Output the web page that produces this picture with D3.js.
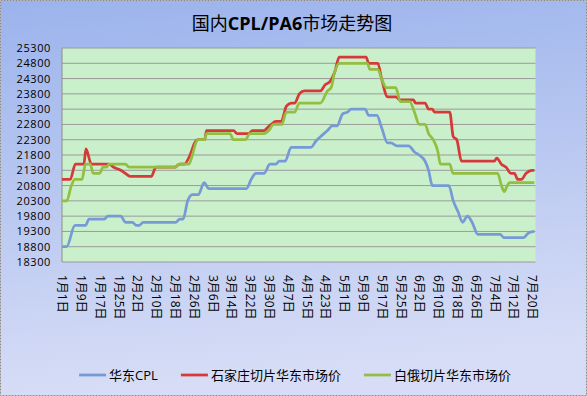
<!DOCTYPE html>
<html>
<head>
<meta charset="utf-8">
<script src="https://cdn.jsdelivr.net/npm/d3@7"></script>
<style>
  body { margin: 0; background: #fff; }
  svg text { font-family: "Open Sans", "Noto Sans CJK SC", sans-serif; fill: #000; }
</style>
</head>
<body>
<svg id="chart" width="587" height="396"></svg>
<script>
// días contados desde el 1月1日
var cplDays   = [0, 2, 5.5, 10, 11.5, 18, 19.5, 25, 27, 30, 31.5, 33, 34.5, 48.5, 50, 51.5, 53.5, 55.5, 58, 60.5, 62.5, 78.5, 80.5, 82.5, 86, 88.5, 91, 92.5, 95, 97.5, 106, 108, 110, 113, 115, 117, 119.5, 121.5, 123, 129, 130.5, 134, 136, 138.5, 140, 142.5, 147.5, 150, 152, 154.5, 156, 157.6, 164.6, 166.5, 168.5, 170.5, 172.5, 174.5, 177, 186.5, 188, 196.5, 198.5, 201];
var cplValues = [18800, 18800, 19500, 19500, 19700, 19700, 19800, 19800, 19600, 19600, 19500, 19500, 19600, 19600, 19700, 19700, 20300, 20500, 20500, 20900, 20700, 20700, 21000, 21200, 21200, 21500, 21500, 21600, 21600, 22050, 22050, 22250, 22400, 22600, 22750, 22750, 23150, 23200, 23300, 23300, 23100, 23100, 22700, 22200, 22200, 22100, 22100, 21900, 21800, 21600, 21300, 20800, 20800, 20300, 19950, 19600, 19800, 19600, 19200, 19200, 19100, 19100, 19250, 19300];

var sjzDays   = [0, 3.5, 5.7, 9.3, 10.2, 12.5, 20, 22, 25, 27, 29, 38, 40, 48, 50, 52, 54.5, 56.5, 58, 60.7, 61.5, 73, 74.5, 79.5, 81, 86, 87.5, 89, 91, 93.3, 95.5, 97.5, 99, 101, 103, 110, 112, 114, 116, 118, 129.4, 130.5, 134.4, 136, 138.6, 142, 144, 149.5, 150.5, 154.5, 156, 157.5, 158.6, 165, 166.5, 168, 170, 184, 185, 187, 189, 191, 192.5, 194, 195.5, 197.5, 200, 201];
var sjzValues = [21000, 21000, 21500, 21500, 22000, 21500, 21500, 21400, 21300, 21200, 21100, 21100, 21400, 21400, 21500, 21500, 21800, 22200, 22300, 22300, 22600, 22600, 22500, 22500, 22600, 22600, 22700, 22800, 22900, 22900, 23400, 23500, 23500, 23800, 23900, 23900, 24100, 24200, 24500, 25000, 25000, 24800, 24800, 24300, 23700, 23700, 23600, 23600, 23500, 23500, 23300, 23300, 23200, 23200, 22400, 22300, 21600, 21600, 21700, 21500, 21400, 21200, 21200, 21000, 21000, 21200, 21300, 21300];

var byDays   = [0, 2, 4, 5.5, 8.5, 10, 12, 13.3, 16, 17.5, 19, 20, 27, 28.5, 48, 50, 54, 55.5, 57, 58, 60.7, 61.5, 71.5, 73, 78, 80, 86, 88, 90, 93.5, 95.5, 99, 101, 110, 113, 114.5, 116, 118, 130, 131, 134.4, 136, 138, 142, 144, 148, 150, 152, 154.5, 156, 158, 160, 161, 165, 166.4, 185.4, 187, 188.2, 189.5, 190.4, 201];
var byValues = [20300, 20300, 20800, 21000, 21000, 21500, 21500, 21200, 21200, 21400, 21400, 21500, 21500, 21400, 21400, 21500, 21500, 21800, 22200, 22300, 22300, 22500, 22500, 22300, 22300, 22500, 22500, 22600, 22800, 22800, 23200, 23200, 23500, 23500, 23900, 24000, 24500, 24800, 24800, 24600, 24600, 24300, 24000, 24000, 23550, 23550, 23200, 22800, 22800, 22500, 22300, 21900, 21500, 21500, 21200, 21200, 20800, 20600, 20800, 20900, 20900];

var seriesNames = ["华东CPL", "石家庄切片华东市场价", "白俄切片华东市场价"];
var tickDays   = [0, 8, 16, 24, 32, 40, 48, 56, 64, 72, 80, 88, 96, 104, 112, 120, 128, 136, 144, 152, 160, 168, 176, 184, 192, 200];
var tickLabels = ["1月1日", "1月9日", "1月17日", "1月25日", "2月2日", "2月10日", "2月18日", "2月26日", "3月6日", "3月14日", "3月22日", "3月30日", "4月7日", "4月15日", "4月23日", "5月1日", "5月9日", "5月17日", "5月25日", "6月2日", "6月10日", "6月18日", "6月26日", "7月4日", "7月12日", "7月20日"];
var yTicks = [18300, 18800, 19300, 19800, 20300, 20800, 21300, 21800, 22300, 22800, 23300, 23800, 24300, 24800, 25300];

var W = 587, H = 396;
var plotLeft = 62, plotRight = 535.5, plotTop = 48, plotBottom = 262;
var colors = ["#779ad6", "#d6393a", "#93be41"];

var svg = d3.select("#chart");
var defs = svg.append("defs");
var bg = defs.append("linearGradient").attr("id", "bgGrad")
    .attr("x1", 0).attr("y1", 0).attr("x2", 0.15).attr("y2", 1);
bg.append("stop").attr("offset", "0%").attr("stop-color", "#9bb3ec");
bg.append("stop").attr("offset", "55%").attr("stop-color", "#bccaf1");
bg.append("stop").attr("offset", "100%").attr("stop-color", "#d7ddf6");

// fondo del gráfico
svg.append("rect")
    .attr("x", 0.5).attr("y", 0.5)
    .attr("width", W - 1).attr("height", H - 1)
    .attr("fill", "url(#bgGrad)")
    .attr("stroke", "#8a8a8a")
    .attr("stroke-dasharray", "2,1");

var x = d3.scaleLinear().domain([0, 201.5]).range([plotLeft, plotRight]);
var y = d3.scaleLinear().domain([18300, 25300]).range([plotBottom, plotTop]);

// área de trazado
svg.append("rect")
    .attr("x", plotLeft).attr("y", plotTop)
    .attr("width", plotRight - plotLeft).attr("height", plotBottom - plotTop)
    .attr("fill", "#caf0cb");

svg.append("g").selectAll("line")
    .data(yTicks)
    .enter().append("line")
    .attr("x1", plotLeft).attr("x2", plotRight)
    .attr("y1", function(d) { return y(d); })
    .attr("y2", function(d) { return y(d); })
    .attr("stroke", "#9a9a9a")
    .attr("stroke-width", 1);

svg.append("line")
    .attr("x1", plotLeft).attr("x2", plotLeft)
    .attr("y1", plotTop).attr("y2", plotBottom)
    .attr("stroke", "#8c8c8c");

// eje Y
var yAxis = d3.axisLeft(y).tickValues(yTicks).tickSize(0).tickPadding(11)
    .tickFormat(function(d) { return d; });
var gy = svg.append("g")
    .attr("transform", "translate(" + plotLeft + ",0)")
    .call(yAxis);
gy.select(".domain").remove();
gy.selectAll("text")
    .style("font-size", "11px")
    .style("letter-spacing", "0.6px")
    .style("font-family", "'Open Sans', sans-serif");

// eje X
var xAxis = d3.axisBottom(x).tickValues(tickDays).tickSize(0)
    .tickFormat(function(d, i) { return tickLabels[i]; });
var gx = svg.append("g")
    .attr("transform", "translate(0," + plotBottom + ")")
    .call(xAxis);
gx.select(".domain").remove();
gx.selectAll("text")
    .attr("transform", "rotate(90)")
    .attr("x", 13)
    .attr("y", 0)
    .attr("dy", "0.35em")
    .style("text-anchor", "start")
    .style("font-size", "12px");

// líneas
var series = [
    { name: seriesNames[0], days: cplDays, values: cplValues },
    { name: seriesNames[1], days: sjzDays, values: sjzValues },
    { name: seriesNames[2], days: byDays,  values: byValues }
];
var line = d3.line()
    .x(function(d) { return x(d[0]); })
    .y(function(d) { return y(d[1]); })
    .curve(d3.curveMonotoneX);

svg.append("g").selectAll("path")
    .data(series)
    .enter().append("path")
    .attr("d", function(s) { return line(d3.zip(s.days, s.values)); })
    .attr("fill", "none")
    .attr("stroke", function(s, i) { return colors[i]; })
    .attr("stroke-width", 2.75)
    .attr("stroke-linejoin", "round");

// título
var title = svg.append("text")
    .attr("x", 292).attr("y", 30)
    .attr("text-anchor", "middle")
    .style("font-size", "18px");
title.append("tspan").style("font-family", "'Noto Sans CJK SC'").text("国内");
title.append("tspan").style("font-weight", "bold").style("font-family", "'Open Sans'").text("CPL/PA6");
title.append("tspan").style("font-family", "'Noto Sans CJK SC'").text("市场走势图");

// leyenda
var legendY = 375, sampleW = 27, sampleGap = 3, itemGap = 23;
var legend = svg.append("g");
var items = legend.selectAll("g")
    .data(series)
    .enter().append("g");
items.append("line")
    .attr("x1", 0).attr("x2", sampleW)
    .attr("y1", 0).attr("y2", 0)
    .attr("stroke", function(s, i) { return colors[i]; })
    .attr("stroke-width", 2.75);
items.append("text")
    .attr("x", sampleW + sampleGap)
    .attr("dy", "0.35em")
    .style("font-size", "13px")
    .text(function(s) { return s.name; });

var widths = [];
items.each(function() {
    widths.push(sampleW + sampleGap + d3.select(this).select("text").node().getComputedTextLength());
});
var total = d3.sum(widths) + itemGap * (widths.length - 1);
var cx = 295 - total / 2;
items.attr("transform", function(s, i) {
    var pos = cx;
    cx += widths[i] + itemGap;
    return "translate(" + pos + "," + legendY + ")";
});
</script>
</body>
</html>
